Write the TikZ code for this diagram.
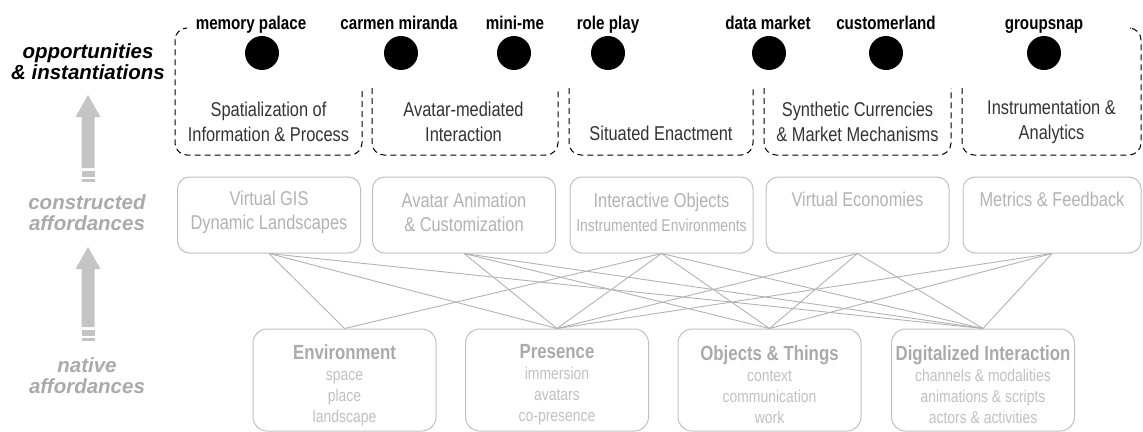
\documentclass[tikz,border=0pt]{standalone}
\usepackage{fontspec}
\setmainfont{Liberation Sans}
\newfontfamily\narrowsf[FakeStretch=0.82]{Liberation Sans}
\usetikzlibrary{positioning}
\definecolor{boxgray}{RGB}{192,192,192}
\definecolor{midgray}{RGB}{178,178,178}
\definecolor{subgray}{RGB}{192,192,192}
\definecolor{titlegray}{RGB}{170,170,170}
\definecolor{arrowgray}{RGB}{196,196,196}
\definecolor{darktxt}{RGB}{51,51,51}
\newcommand{\lowtitle}[1]{{\fontsize{20.5}{24}\selectfont\bfseries\color{titlegray}#1}}
\newcommand{\smallline}[1]{{\fontsize{17}{21}\selectfont #1}}

\begin{document}
\begin{tikzpicture}[x=1pt,y=-1pt,
  dashsec/.style={draw=black, line width=1pt, dash pattern=on 6pt off 4pt, rounded corners=12pt},
  sectxt/.style={align=center, text=darktxt, inner sep=0pt, font=\narrowsf\fontsize{20}{25}\selectfont},
  dot/.style={circle, fill=black, minimum size=34pt, inner sep=0pt},
  oppname/.style={anchor=base, inner sep=0pt, font=\narrowsf\bfseries\fontsize{18.5}{22}\selectfont},
  midbox/.style={draw=boxgray, line width=1pt, rounded corners=12pt, minimum width=183pt, minimum height=76pt, inner sep=0pt},
  midtxt/.style={align=center, text=midgray, inner sep=0pt, font=\narrowsf\fontsize{20}{24}\selectfont},
  lowbox/.style={draw=boxgray, line width=1pt, rounded corners=14pt, minimum width=183pt, minimum height=102pt, inner sep=0pt},
  lowtxt/.style={align=center, text=subgray, inner sep=0pt, font=\narrowsf\fontsize{17}{21}\selectfont},
  link/.style={draw=midgray, line width=0.9pt},
  sidelabel/.style={align=center, inner sep=0pt, font=\bfseries\itshape\fontsize{20.5}{21}\selectfont},
  blockarrow/.style={fill=arrowgray}]
\useasboundingbox (0,0) rectangle (1143,431);

% side labels and the two gray arrows
\node[sidelabel] (opp) at (88,62) {opportunities\\\& instantiations};
\node[sidelabel, text=titlegray] (constr) at (87,213) {constructed\\affordances};
\node[sidelabel, text=titlegray] (native) at (87,376) {native\\affordances};
\foreach \t/\b in {95/168, 247/327} {
  \fill[blockarrow] (88,\t) -- (100.5,\t+22) -- (94.5,\t+22) -- (94.5,\b) -- (81.5,\b)
    -- (81.5,\t+22) -- (75.5,\t+22) -- cycle;
  \fill[blockarrow] (81.5,\b+3) rectangle (94.5,\b+9);
  \fill[blockarrow] (81.5,\b+11) rectangle (94.5,\b+14);
}

% dashed sections
\draw[dashsec] (185,28) -- (175,28) -- (175,155) -- (362,155) -- (362,88);
\draw[dashsec] (372,88) -- (372,155) -- (558,155) -- (558,88);
\draw[dashsec] (569,88) -- (569,155) -- (753,155) -- (753,88);
\draw[dashsec] (764,88) -- (764,155) -- (951,155) -- (951,88);
\draw[dashsec] (962,88) -- (962,155) -- (1141,155) -- (1141,28) -- (1131,28);

\node[sectxt] (s1) at (268.5,122) {Spatialization of\\Information \& Process};
\node[sectxt] (s2) at (463.5,122) {Avatar-mediated\\Interaction};
\node[sectxt] (s3) at (661,133) {Situated Enactment};
\node[sectxt] (s4) at (857.5,122) {Synthetic Currencies\\\& Market Mechanisms};
\node[sectxt] (s5) at (1051.5,122) {Instrumentation \&\\Analytics};

% opportunities
\foreach \x/\n in {262/mem, 401/carmen, 514/minime, 608/role, 769/datamkt, 886/custland, 1044/gsnap}
  \node[dot] (\n) at (\x,53) {};
\node[oppname] (memtxt) at (251,29) {memory palace};
\node[oppname] (carmentxt) at (399,29) {carmen miranda};
\node[oppname] (minimetxt) at (515,29) {mini-me};
\node[oppname] (roletxt) at (608,29) {role play};
\node[oppname] (datamkttxt) at (768,29) {data market};
\node[oppname] (custlandtxt) at (886,29) {customerland};
\node[oppname] (gsnaptxt) at (1044,29) {groupsnap};

% constructed affordances
\node[midbox] (gis) at (269,215) {};
\node[midbox] (avanim) at (464,215) {};
\node[midbox] (interobj) at (661.5,215) {};
\node[midbox] (econ) at (857.5,215) {};
\node[midbox, minimum width=178pt] (metrics) at (1052,215) {};
\node[midtxt] (gistxt) at (269,212) {Virtual GIS\\Dynamic Landscapes};
\node[midtxt] (avanimtxt) at (464,212) {Avatar Animation\\\& Customization};
\node[midtxt] (interobjtxt) at (661.5,212) {Interactive Objects\\\smallline{Instrumented Environments}};
\node[midtxt] (econtxt) at (857.5,199) {Virtual Economies};
\node[midtxt] (metricstxt) at (1052,199) {Metrics \& Feedback};

% native affordances
\node[lowbox] (env) at (344.5,380) {};
\node[lowbox] (pres) at (557,380) {};
\node[lowbox] (obj) at (769.5,380) {};
\node[lowbox] (dig) at (983,380) {};
\node[lowtxt] (envtxt) at (344.5,385) {\lowtitle{Environment}\\space\\place\\landscape};
\node[lowtxt] (prestxt) at (557,385) {\lowtitle{Presence}\\immersion\\avatars\\co-presence};
\node[lowtxt] (objtxt) at (769.5,385) {\lowtitle{Objects \& Things}\\context\\communication\\work};
\node[lowtxt] (digtxt) at (983,385) {\lowtitle{Digitalized Interaction}\\channels \& modalities\\animations \& scripts\\actors \& activities};

\foreach \a/\b in {gis/env, gis/pres, gis/dig,
                   avanim/pres, avanim/obj, avanim/dig,
                   interobj/env, interobj/pres, interobj/obj, interobj/dig,
                   econ/pres, econ/obj, econ/dig,
                   metrics/pres, metrics/obj, metrics/dig}
  \draw[link] (\a.south) -- (\b.north);
\end{tikzpicture}
\end{document}
